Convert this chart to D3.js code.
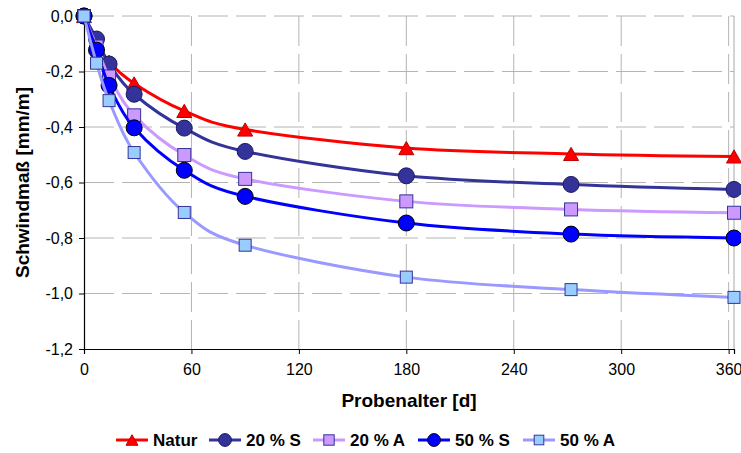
<!DOCTYPE html>
<html><head><meta charset="utf-8">
<script src="https://cdn.jsdelivr.net/npm/d3@7"></script>
<style>body{margin:0;background:#fff}svg{display:block}</style>
</head><body>
<svg id="c" width="741" height="453"></svg>
<script>
// ---- data ----
const days = [0, 7, 14, 28, 56, 90, 180, 272, 363];
const natur = [0, -0.09, -0.165, -0.243, -0.342, -0.409, -0.476, -0.497, -0.506];
const s20 = [0, -0.083, -0.173, -0.282, -0.404, -0.488, -0.576, -0.607, -0.625];
const a20 = [0, -0.11, -0.218, -0.358, -0.501, -0.587, -0.668, -0.697, -0.709];
const s50 = [0, -0.123, -0.25, -0.403, -0.556, -0.65, -0.746, -0.786, -0.80];
const a50 = [0, -0.17, -0.305, -0.492, -0.708, -0.826, -0.941, -0.986, -1.014];
const seriesNames = ["Natur", "20 % S", "20 % A", "50 % S", "50 % A"];
const xTicks = [0, 60, 120, 180, 240, 300, 360];
const yTicks = [0, -0.2, -0.4, -0.6, -0.8, -1.0, -1.2];
const xTitle = "Probenalter [d]";
const yTitle = "Schwindmaß [mm/m]";

// ---- styles ----
const styles = [
  {line: "#FF0000", fill: "#FF0000", stroke: "#C00000", shape: "tri", size: 15},
  {line: "#333399", fill: "#333399", stroke: "#1a1a66", shape: "circle", size: 16},
  {line: "#CC99FF", fill: "#CC99FF", stroke: "#333399", shape: "square", size: 13},
  {line: "#0000FF", fill: "#0000FF", stroke: "#000000", shape: "circle", size: 16},
  {line: "#9999FF", fill: "#99CCFF", stroke: "#333399", shape: "square", size: 12}
];
const values = [natur, s20, a20, s50, a50];
const M = {left: 84, right: 734, top: 16, bottom: 349};
const FONT = "'Liberation Sans',Arial,sans-serif";

const svg = d3.select("#c");
const x = d3.scaleLinear().domain([0, d3.max(days)]).range([M.left, M.right]);
const y = d3.scaleLinear().domain([-1.2, 0]).range([M.bottom, M.top]);
const loc = d3.formatLocale({decimal: ",", thousands: ".", grouping: [3], currency: ["", "€"], minus: "-"});
const fy = loc.format(".1f");

// grid
const grid = svg.append("g");
grid.selectAll(".hg").data(yTicks.filter(v => v > -1.2)).join("line")
  .attr("x1", M.left).attr("x2", M.right).attr("y1", d => y(d)).attr("y2", d => y(d))
  .attr("stroke", "#b4b4b4").attr("stroke-width", 1).attr("stroke-dasharray", "30,8");
grid.selectAll(".vg").data(xTicks.filter(v => v > 0)).join("line")
  .attr("x1", d => x(d)).attr("x2", d => x(d)).attr("y1", M.top).attr("y2", M.bottom)
  .attr("stroke", "#b4b4b4").attr("stroke-width", 1).attr("stroke-dasharray", "30,8");
grid.append("line").attr("x1", M.right).attr("x2", M.right).attr("y1", M.top).attr("y2", M.bottom)
  .attr("stroke", "#a8a8a8").attr("stroke-width", 1);

// axes
const yAxis = svg.append("g").attr("transform", `translate(${M.left},0)`)
  .call(d3.axisLeft(y).tickValues(yTicks).tickFormat(fy).tickSize(5).tickPadding(6));
const xAxis = svg.append("g").attr("transform", `translate(0,${M.bottom})`)
  .call(d3.axisBottom(x).tickValues(xTicks).tickFormat(d3.format("d")).tickSize(5).tickPadding(10));
[yAxis, xAxis].forEach(a => {
  a.select(".domain").attr("stroke", "#000").attr("stroke-width", 1.2);
  a.selectAll(".tick line").attr("stroke", "#000");
  a.selectAll("text").attr("fill", "#000").style("font-family", FONT).style("font-size", "16px");
});

// titles
svg.append("text").attr("x", (M.left + M.right) / 2).attr("y", 407).attr("text-anchor", "middle")
  .style("font-family", FONT).style("font-weight", "bold").style("font-size", "19px").text(xTitle);
svg.append("text").attr("transform", `translate(29,${(M.top + M.bottom) / 2}) rotate(-90)`)
  .attr("text-anchor", "middle")
  .style("font-family", FONT).style("font-weight", "bold").style("font-size", "19px").text(yTitle);

function marker(sel, st, scale) {
  const s = st.size * scale;
  if (st.shape === "circle") {
    sel.append("circle").attr("r", s / 2).attr("fill", st.fill).attr("stroke", st.stroke).attr("stroke-width", 1);
  } else if (st.shape === "square") {
    sel.append("rect").attr("x", -s / 2).attr("y", -s / 2).attr("width", s).attr("height", s)
      .attr("fill", st.fill).attr("stroke", st.stroke).attr("stroke-width", 1);
  } else {
    const h = s * 0.88;
    sel.append("path").attr("d", `M0,${-h / 2}L${s / 2},${h / 2}L${-s / 2},${h / 2}Z`)
      .attr("fill", st.fill).attr("stroke", st.stroke).attr("stroke-width", 1);
  }
}

const line = d3.line().x(d => x(d[0])).y(d => y(d[1])).curve(d3.curveCardinal.tension(0));
values.forEach((vals, i) => {
  const st = styles[i];
  const pts = days.map((d, j) => [d, vals[j]]);
  const g = svg.append("g");
  g.append("path").attr("d", line(pts)).attr("fill", "none").attr("stroke", st.line).attr("stroke-width", 3);
  pts.forEach(p => {
    const m = g.append("g").attr("transform", `translate(${x(p[0])},${y(p[1])})`);
    marker(m, st, 1);
  });
});

// legend
const legX = [116, 209, 313, 418, 523];
const lg = svg.append("g").attr("transform", "translate(0,440)");
seriesNames.forEach((n, i) => {
  const st = styles[i];
  const g = lg.append("g").attr("transform", `translate(${legX[i]},0)`);
  g.append("line").attr("x1", 0).attr("x2", 32).attr("stroke", st.line).attr("stroke-width", 3);
  const m = g.append("g").attr("transform", "translate(16,0)");
  marker(m, st, 0.8);
  g.append("text").attr("x", 37).attr("y", 6).style("font-family", FONT).style("font-weight", "bold")
    .style("font-size", "17px").text(n);
});
</script>
</body></html>
